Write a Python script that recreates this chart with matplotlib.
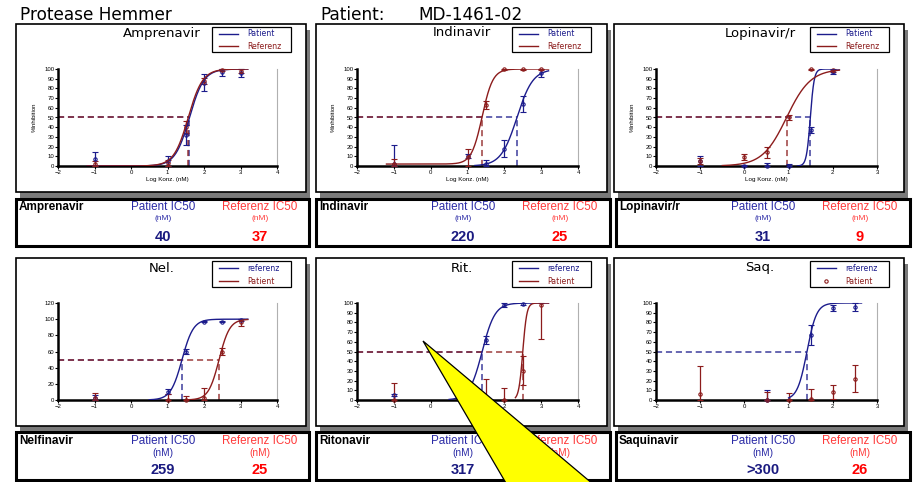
import numpy as np
import matplotlib
matplotlib.use('Agg')
import matplotlib.pyplot as plt
from matplotlib.patches import Rectangle, Polygon

plt.rcParams['font.family'] = ['Liberation Sans', 'DejaVu Sans']

W, H = 913, 482
BLUE = '#1c1c8c'
RED = '#8c1c1c'

# ---- data ----
# Amprenavir (Patient = blue, Referenz = red)
amp_x = [-1, 1, 1.5, 2, 2.5, 3]
amp_pat = [7, 5, 32, 86, 97, 96]
amp_pat_err = [7, 5, 10, 9, 4, 4]
amp_ref = [2, 3, 40, 88, 99, 98]
amp_ref_err = [3, 3, 6, 3, 1, 2]
amp_ic50 = [40, 37]
amp_hill = [2.2, 2.2]

# Indinavir
ind_x = [-1, 1, 1.5, 2, 2.5, 3]
ind_pat = [2, 10, 2, 18, 64, 96]
ind_pat_err = [20, 2, 4, 9, 8, 4]
ind_ref = [2, 9, 63, 100, 100, 100]
ind_ref_err = [5, 9, 4, 1, 1, 1]
ind_ic50 = [220, 25]
ind_hill = [2.0, 3.0]

# Lopinavir/r
lop_x = [-1, 0, 0.5, 1, 1.5, 2]
lop_pat = [5, 0, 0, 0, 37, 97]
lop_pat_err = [5, 1, 3, 2, 3, 2]
lop_ref = [5, 9, 14, 50, 100, 99]
lop_ref_err = [3, 3, 6, 3, 1, 2]
lop_ic50 = [31, 9]
lop_hill = [10.0, 1.6]

# Nelfinavir (referenz = blue, Patient = red)
nel_x = [-1, 1, 1.5, 2, 2.5, 3]
nel_ref = [3, 10, 60, 97, 97, 99]
nel_ref_err = [3, 3, 3, 1, 1, 1]
nel_pat = [3, 0, 0, 3, 60, 96]
nel_pat_err = [6, 7, 5, 12, 4, 4]
nel_ic50 = [259, 25]
nel_hill = [3.0, 2.8]

# Ritonavir
rit_ref_x = [-1, 1, 1.5, 2, 2.5]
rit_ref = [5, 12, 62, 98, 99]
rit_ref_err = [1, 3, 4, 2, 1]
rit_pat_x = [-1, 1.5, 2, 2.5, 3]
rit_pat = [0, 0, 0, 30, 98]
rit_pat_err = [18, 22, 12, 15, 35]
rit_ic50 = [317, 25]
rit_hill = [8.0, 2.5]

# Saquinavir
saq_ref_x = [0.5, 1.5, 2, 2.5]
saq_ref = [0, 67, 95, 96]
saq_ref_err = [10, 10, 3, 4]
saq_pat_x = [-1, 0.5, 1, 1.5, 2, 2.5]
saq_pat = [6, 0, 0, 1, 8, 22]
saq_pat_err = [29, 8, 7, 10, 7, 14]
saq_ic50_ref = 26

drug_names = ['Amprenavir', 'Indinavir', 'Lopinavir/r', 'Nelfinavir', 'Ritonavir', 'Saquinavir']
plot_titles = ['Amprenavir', 'Indinavir', 'Lopinavir/r', 'Nel.', 'Rit.', 'Saq.']
patient_ic50_txt = ['40', '220', '31', '259', '317', '>300']
referenz_ic50_txt = ['37', '25', '9', '25', '25', '26']


def sigmoid(x, ic50, hill, bottom=0):
    return bottom + (100 - bottom) / (1 + 10 ** ((np.log10(ic50) - x) * hill))


fig = plt.figure(figsize=(W / 100, H / 100), dpi=100)
bg = fig.add_axes([0, 0, 1, 1], zorder=0)
bg.set_xlim(0, W)
bg.set_ylim(H, 0)
bg.axis('off')

# header
bg.text(20, 20, 'Protease Hemmer', fontsize=12.2, family='DejaVu Sans', va='baseline')
bg.text(320, 20, 'Patient:', fontsize=12.2, family='DejaVu Sans', va='baseline')
bg.text(418, 20, 'MD-1461-02', fontsize=12.2, family='DejaVu Sans', va='baseline')

panel_x = [(16, 306), (316, 607), (614, 904)]
table_x = [(16, 309), (316, 610), (616, 910)]
rows = [dict(ptop=24, pbot=192, ttop=199, tbot=246, ytxt=207, ynm=219, yval=237,
             ax0=166, ax1=69, leg=(27, 25), title_y=33, nm_size=6.0),
        dict(ptop=258, pbot=426, ttop=432, tbot=480, ytxt=441, ynm=453, yval=470,
             ax0=400, ax1=303, leg=(261, 26), title_y=268, nm_size=7.3)]
axes_x = [(58, 277), (357, 578), (656, 877)]


def make_axes(i, xmax, ymax, ystep):
    r = rows[i // 3]
    x0, x1 = axes_x[i % 3]
    ax = fig.add_axes([x0 / W, 1 - r['ax0'] / H, (x1 - x0) / W, (r['ax0'] - r['ax1']) / H], zorder=2)
    ax.patch.set_alpha(0)
    ax.set_xlim(-2, xmax)
    ax.set_ylim(0, ymax)
    ax.set_xticks(range(-2, xmax + 1))
    ax.set_yticks(range(0, ymax + 1, ystep))
    ax.spines['top'].set_visible(False)
    ax.spines['right'].set_color('#b0b0b0')
    ax.spines['right'].set_linewidth(0.8)
    for s in ['left', 'bottom']:
        ax.spines[s].set_linewidth(1.8)
    ax.tick_params(labelsize=4.3, length=2, width=0.8, pad=0.6)
    return ax


def draw_series(ax, color, x, y, err, ic50=None, hill=None, xr=None, bottom=0):
    x = np.array(x, float)
    y = np.array(y, float)
    err = np.array(err, float)
    lo = np.minimum(err, y)
    hi = np.minimum(err, np.maximum(100 - y, 0))
    ax.errorbar(x, y, yerr=[lo, hi], fmt='o', ms=2.4, mfc='none', mec=color, mew=0.8,
                color=color, ecolor=color, elinewidth=0.9, capsize=2, capthick=0.9,
                clip_on=False, zorder=3)
    if ic50 is not None:
        xs = np.linspace(xr[0], xr[1], 300)
        ax.plot(xs, sigmoid(xs, ic50, hill, bottom), color=color, lw=1.0, zorder=4)


def draw_dash(ax, color, ic50):
    lx = np.log10(ic50)
    ax.plot([-2, lx], [50, 50], color=color, lw=1.1, ls=(0, (4, 2.5)), alpha=0.85, zorder=2)
    ax.plot([lx, lx], [0, 50], color=color, lw=1.1, ls=(0, (4, 2.5)), alpha=0.85, zorder=2)


def draw_frame(i, legend_items, top_row):
    r = rows[i // 3]
    px0, px1 = panel_x[i % 3]
    tx0, tx1 = table_x[i % 3]
    # panel with shadow
    bg.add_patch(Rectangle((px0 + 4, r['ptop'] + 6), px1 - px0, r['pbot'] - r['ptop'],
                           facecolor='#7a7a7a', edgecolor='none'))
    bg.add_patch(Rectangle((px0, r['ptop']), px1 - px0, r['pbot'] - r['ptop'],
                           facecolor='white', edgecolor='black', lw=1.2))
    # title
    bg.text(px0 + 146, r['title_y'], plot_titles[i], fontsize=9.5, family='DejaVu Sans',
            ha='center', va='center')
    # legend
    ly, lh = r['leg']
    lx = px0 + 196
    bg.add_patch(Rectangle((lx, ly), 79, lh, facecolor='white', edgecolor='black', lw=0.9))
    for k, (lab, col, kind) in enumerate(legend_items):
        yy = ly + lh * (0.27 + 0.5 * k)
        if kind == 'line':
            bg.plot([lx + 7, lx + 26], [yy, yy], color=col, lw=1.0)
        else:
            bg.plot([lx + 16], [yy], 'o', ms=2.4, mfc='none', mec=col, mew=0.8)
        bg.text(lx + 35, yy, lab, fontsize=5.6, family='DejaVu Sans', color=col, va='center')
    # axis labels in the top row
    if top_row:
        ax0, ax1 = axes_x[i % 3]
        bg.text((ax0 + ax1) / 2, 179, 'Log Konz. (nM)', fontsize=4.5, ha='center', va='center')
        bg.text(ax0 - 24, 117, '%Inhibition', fontsize=4.3, rotation=90, ha='center', va='center')
    # table
    bg.add_patch(Rectangle((tx0, r['ttop']), tx1 - tx0, r['tbot'] - r['ttop'],
                           facecolor='white', edgecolor='black', lw=2.2))
    bg.text(tx0 + 3, r['ytxt'], drug_names[i], fontsize=8.5, weight='bold', va='center')
    bg.text(tx0 + 147, r['ytxt'], 'Patient IC50', fontsize=8.4, color='#2b2ba6',
            ha='center', va='center')
    bg.text(tx0 + 244, r['ytxt'], 'Referenz IC50', fontsize=8.4, color='#ff3b3b',
            ha='center', va='center')
    bg.text(tx0 + 147, r['ynm'], '(nM)', fontsize=r['nm_size'], color='#2b2ba6',
            ha='center', va='center')
    bg.text(tx0 + 244, r['ynm'], '(nM)', fontsize=r['nm_size'], color='#ff3b3b',
            ha='center', va='center')
    bg.text(tx0 + 147, r['yval'], patient_ic50_txt[i], fontsize=10.5, weight='bold',
            color='#1a1a80', ha='center', va='center')
    bg.text(tx0 + 244, r['yval'], referenz_ic50_txt[i], fontsize=10.5, weight='bold',
            color='#ff0000', ha='center', va='center')


leg_top = [('Patient', BLUE, 'line'), ('Referenz', RED, 'line')]
leg_bot = [('referenz', BLUE, 'line'), ('Patient', RED, 'line')]
leg_saq = [('referenz', BLUE, 'line'), ('Patient', RED, 'marker')]

for i in range(3):
    draw_frame(i, leg_top, True)
draw_frame(3, leg_bot, False)
draw_frame(4, leg_bot, False)
draw_frame(5, leg_saq, False)

# Amprenavir
ax = make_axes(0, 4, 100, 10)
draw_dash(ax, BLUE, amp_ic50[0])
draw_dash(ax, RED, amp_ic50[1])
draw_series(ax, BLUE, amp_x, amp_pat, amp_pat_err, amp_ic50[0], amp_hill[0], (-1.2, 3.2))
draw_series(ax, RED, amp_x, amp_ref, amp_ref_err, amp_ic50[1], amp_hill[1], (-1.2, 3.2))

# Indinavir
ax = make_axes(1, 4, 100, 10)
draw_dash(ax, BLUE, ind_ic50[0])
draw_dash(ax, RED, ind_ic50[1])
draw_series(ax, BLUE, ind_x, ind_pat, ind_pat_err, ind_ic50[0], ind_hill[0], (1.2, 3.2))
draw_series(ax, RED, ind_x, ind_ref, ind_ref_err, ind_ic50[1], ind_hill[1], (-1.2, 3.2), bottom=2)

# Lopinavir/r
ax = make_axes(2, 3, 100, 10)
draw_dash(ax, BLUE, lop_ic50[0])
draw_dash(ax, RED, lop_ic50[1])
draw_series(ax, BLUE, lop_x, lop_pat, lop_pat_err, lop_ic50[0], lop_hill[0], (1.2, 2.15))
draw_series(ax, RED, lop_x, lop_ref, lop_ref_err, lop_ic50[1], lop_hill[1], (-0.5, 2.15))

# Nelfinavir
ax = make_axes(3, 4, 120, 20)
draw_dash(ax, BLUE, nel_ic50[1])
draw_dash(ax, RED, nel_ic50[0])
draw_series(ax, BLUE, nel_x, nel_ref, nel_ref_err, nel_ic50[1], nel_hill[1], (0.5, 3.2))
draw_series(ax, RED, nel_x, nel_pat, nel_pat_err, nel_ic50[0], nel_hill[0], (1.5, 3.2))

# Ritonavir
ax = make_axes(4, 4, 100, 10)
draw_dash(ax, BLUE, rit_ic50[1])
draw_dash(ax, RED, rit_ic50[0])
draw_series(ax, BLUE, rit_ref_x, rit_ref, rit_ref_err, rit_ic50[1], rit_hill[1], (0.5, 3.2))
draw_series(ax, RED, rit_pat_x, rit_pat, rit_pat_err, rit_ic50[0], rit_hill[0], (2.3, 3.2))

# Saquinavir
ax = make_axes(5, 3, 100, 10)
draw_dash(ax, BLUE, saq_ic50_ref)
draw_series(ax, BLUE, saq_ref_x, saq_ref, saq_ref_err, saq_ic50_ref, 4.0, (1.0, 2.65))
draw_series(ax, RED, saq_pat_x, saq_pat, saq_pat_err)

# yellow callout on top
fg = fig.add_axes([0, 0, 1, 1], zorder=10)
fg.set_xlim(0, W)
fg.set_ylim(H, 0)
fg.axis('off')
fg.add_patch(Polygon([(423, 341), (510, 490), (600, 490)], closed=True,
                     facecolor='#ffff00', edgecolor='black', lw=0.9))

fig.savefig('out.png', dpi=100)
